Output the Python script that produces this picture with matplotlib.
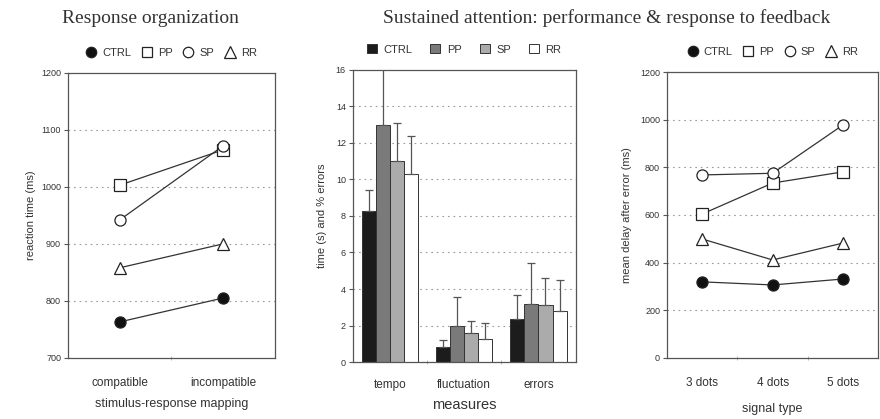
import matplotlib.pyplot as plt
from matplotlib.lines import Line2D
from matplotlib.patches import Patch
import numpy as np

plt.rcParams['font.family'] = ['Liberation Sans', 'DejaVu Sans']

groups = ['CTRL', 'PP', 'SP', 'RR']

# response organization: reaction time (ms)
mapping = ['compatible', 'incompatible']
rt_ctrl = [763, 805]
rt_pp = [1003, 1065]
rt_sp = [942, 1072]
rt_rr = [858, 900]

# sustained attention: means and upper error bars
measures = ['tempo', 'fluctuation', 'errors']
sa_ctrl = [8.3, 0.85, 2.35]
sa_pp = [13.0, 2.0, 3.2]
sa_sp = [11.0, 1.6, 3.1]
sa_rr = [10.3, 1.25, 2.8]
sa_ctrl_err = [1.1, 0.35, 1.3]
sa_pp_err = [3.5, 1.55, 2.2]
sa_sp_err = [2.1, 0.65, 1.5]
sa_rr_err = [2.1, 0.9, 1.7]

# response to feedback: mean delay after error (ms)
signals = ['3 dots', '4 dots', '5 dots']
fb_ctrl = [319, 306, 331]
fb_pp = [604, 734, 781]
fb_sp = [768, 775, 978]
fb_rr = [499, 411, 482]

LINE = '#333333'
SPINE = '#555555'
GRID = '#9a9a9a'
markers = {'CTRL': 'o', 'PP': 's', 'SP': 'o', 'RR': '^'}
faces = {'CTRL': '#111111', 'PP': 'white', 'SP': 'white', 'RR': 'white'}
bar_colors = ['#1c1c1c', '#7a7a7a', '#ababab', 'white']

fig = plt.figure(figsize=(8.8, 4.19), dpi=100)
ax1 = fig.add_axes([0.0773, 0.146, 0.235, 0.680])
ax2 = fig.add_axes([0.401, 0.136, 0.253, 0.697])
ax3 = fig.add_axes([0.758, 0.146, 0.240, 0.682])


def style_axes(ax, yticks, xpad):
    for s in ax.spines.values():
        s.set_color(SPINE)
        s.set_linewidth(0.9)
    ax.set_yticks(yticks)
    for y in yticks[1:-1]:
        ax.axhline(y, color=GRID, lw=0.8, ls=(0, (1.5, 3.5)), zorder=0)
    ax.tick_params(axis='y', labelsize=6.5, length=3, width=0.8,
                   color=SPINE, labelcolor='#333333', pad=2)
    ax.tick_params(axis='x', which='major', length=0, labelsize=8.5,
                   labelcolor='#333333', pad=xpad)
    ax.tick_params(axis='x', which='minor', length=3, width=0.6,
                   color='#aaaaaa', direction='inout')


def line_panel(ax, cats, series):
    x = np.arange(len(cats))
    for name, vals in series:
        ax.plot(x, vals, color=LINE, lw=0.9, marker=markers[name],
                ms=8 if markers[name] != '^' else 8.5, mfc=faces[name],
                mec='#222222', mew=0.9, zorder=3)
    ax.set_xlim(-0.5, len(cats) - 0.5)
    ax.set_xticks(x)
    ax.set_xticklabels(cats)
    ax.set_xticks(np.arange(0.5, len(cats) - 0.5), minor=True)


def marker_legend(ax):
    handles = [Line2D([], [], ls='none', marker=markers[g], ms=7.5 if g != 'RR' else 8.5,
                      mfc=faces[g], mec='#222222', mew=0.9) for g in groups]
    ax.legend(handles, groups, loc='lower center', bbox_to_anchor=(0.5, 1.03),
              ncol=4, frameon=False, fontsize=8, handlelength=1.0,
              handletextpad=0.5, columnspacing=0.9, borderaxespad=0.2,
              labelcolor='#333333')


# left: response organization
line_panel(ax1, mapping, [('CTRL', rt_ctrl), ('PP', rt_pp),
                          ('SP', rt_sp), ('RR', rt_rr)])
ax1.set_ylim(700, 1200)
style_axes(ax1, [700, 800, 900, 1000, 1100, 1200], xpad=14)
ax1.set_ylabel('reaction time (ms)', fontsize=8, color='#333333', labelpad=4)
ax1.set_xlabel('stimulus-response mapping', fontsize=9, color='#333333', labelpad=6)
marker_legend(ax1)

# middle: grouped bars with upper error bars
x = np.arange(len(measures))
w = 0.19
bar_sets = [(sa_ctrl, sa_ctrl_err), (sa_pp, sa_pp_err),
            (sa_sp, sa_sp_err), (sa_rr, sa_rr_err)]
for i, (vals, errs) in enumerate(bar_sets):
    pos = x + (i - 1.5) * w
    ax2.bar(pos, vals, w, color=bar_colors[i], edgecolor='#333333',
            linewidth=0.7, zorder=2)
    ax2.errorbar(pos, vals, yerr=[np.zeros(len(errs)), errs], fmt='none',
                 ecolor='#555555', elinewidth=0.9, capsize=3, capthick=0.9,
                 zorder=3)
ax2.set_xlim(-0.5, 2.5)
ax2.set_ylim(0, 16)
ax2.set_xticks(x)
ax2.set_xticklabels(measures)
ax2.set_xticks([0.5, 1.5], minor=True)
style_axes(ax2, list(range(0, 17, 2)), xpad=12)
ax2.set_ylabel('time (s) and % errors', fontsize=8, color='#333333', labelpad=6)
ax2.set_xlabel('measures', fontsize=10.5, color='#333333', labelpad=5)
bar_handles = [Patch(facecolor=c, edgecolor='#333333', linewidth=0.7)
               for c in bar_colors]
ax2.legend(bar_handles, groups, loc='lower center', bbox_to_anchor=(0.5, 1.03),
           ncol=4, frameon=False, fontsize=8, handlelength=0.9, handleheight=0.9,
           handletextpad=0.6, columnspacing=1.6, borderaxespad=0.2,
           labelcolor='#333333')

# right: delay after error feedback
line_panel(ax3, signals, [('CTRL', fb_ctrl), ('PP', fb_pp),
                          ('SP', fb_sp), ('RR', fb_rr)])
ax3.set_ylim(0, 1200)
style_axes(ax3, [0, 200, 400, 600, 800, 1000, 1200], xpad=14)
ax3.set_ylabel('mean delay after error (ms)', fontsize=8, color='#333333', labelpad=6)
ax3.set_xlabel('signal type', fontsize=9, color='#333333', labelpad=10)
marker_legend(ax3)

# section titles
fig.text(0.1705, 0.957, 'Response organization', family='Liberation Serif',
         fontsize=14, ha='center', va='center', color='#333333')
fig.text(0.689, 0.957, 'Sustained attention: performance & response to feedback',
         family='Liberation Serif', fontsize=14, ha='center', va='center',
         color='#333333')

fig.savefig('out.png', dpi=100)
